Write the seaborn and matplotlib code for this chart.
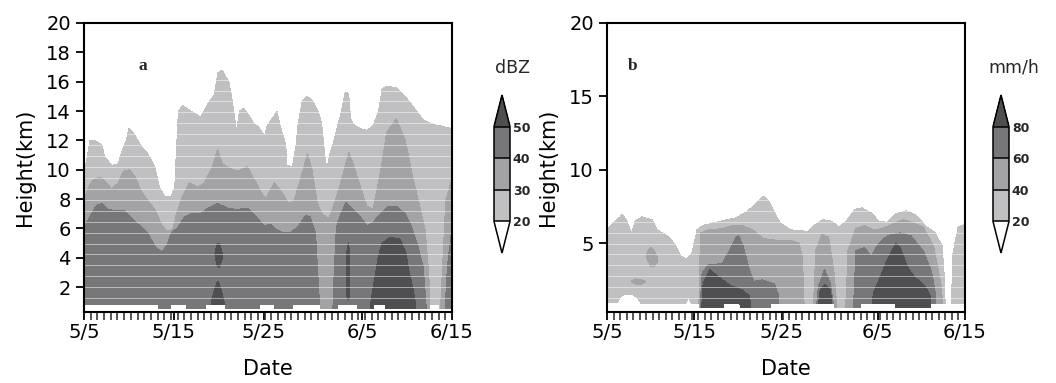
import numpy as np
import matplotlib
matplotlib.use("Agg")
import matplotlib.pyplot as plt
from matplotlib.ticker import FixedLocator
from matplotlib.colors import ListedColormap, BoundaryNorm
from matplotlib.cm import ScalarMappable
import seaborn as sns

sns.set_style("ticks")
plt.rcParams["font.family"] = ["DejaVu Sans"]

# ---------------- axis annotation ----------------
date_ticks = [0, 10, 20, 31, 41]          # days after 5 May
date_labels = ["5/5", "5/15", "5/25", "6/5", "6/15"]
band_colors = ["#c0c0c2", "#a3a3a6", "#77777a"]
over_color = "#4f4f52"

# ---------------- panel a: reflectivity (dBZ) ----------------
dbz_levels = [20, 30, 40, 50]

# height (km) of the 20 dBZ contour (echo top)
dbz20_day = [0, 0.1, 0.66, 1.2, 2.0, 2.3, 3.1, 3.8, 4.2, 4.7, 5.0, 5.5, 6.4, 7.1, 7.9, 8.4,
             9.0, 9.7, 10.1, 10.5, 11.0, 11.9, 13.0, 13.8, 14.5, 14.9, 15.4, 16.2, 16.7, 17.0,
             17.3, 17.8, 18.4, 19.0, 19.5, 20.1, 20.4, 21.2, 21.5, 21.9, 22.3, 22.5, 22.6, 23.2,
             23.6, 23.8, 24.3, 24.9, 25.6, 26.2, 26.5, 26.9, 27.1, 27.4, 27.8, 28.2, 28.6, 28.9,
             29.1, 29.5, 29.7, 30.0, 30.8, 31.5, 32.2, 32.8, 33.2, 33.7, 34.8, 35.8, 36.7, 37.8,
             38.9, 40.4, 41]
dbz20_km = [9.5, 10.0, 12.0, 12.0, 11.7, 10.9, 10.3, 10.4, 11.2, 12.0, 12.8, 12.5, 11.6, 11.1,
            10.2, 8.8, 8.2, 8.2, 8.8, 14.0, 14.4, 14.0, 13.6, 14.5, 15.1, 16.6, 16.8, 15.9, 14.0,
            12.6, 14.0, 14.2, 13.7, 13.1, 12.9, 12.3, 13.0, 13.7, 14.0, 12.9, 12.1, 11.6, 10.3,
            10.2, 11.6, 12.9, 14.7, 15.0, 14.6, 13.8, 13.1, 10.6, 10.2, 11.1, 11.9, 12.9, 13.8,
            14.7, 15.3, 15.2, 13.5, 13.1, 12.8, 12.7, 13.0, 14.0, 15.5, 15.7, 15.6, 15.0, 14.3,
            13.4, 13.1, 12.9, 12.8]

# height (km) of the 30 dBZ contour
dbz30_day = [0, 0.5, 1.0, 1.8, 2.3, 3.1, 3.8, 4.4, 5.1, 5.7, 6.4, 7.1, 7.9, 8.6, 9.2, 9.9, 10.3,
             11.0, 11.7, 12.7, 13.4, 14.3, 14.9, 15.4, 16.2, 17.1, 18.2, 19.0, 19.7, 20.2, 21.2,
             21.9, 22.8, 23.4, 24.1, 24.9, 25.4, 26.0, 26.5, 27.3, 27.8, 28.6, 29.5, 30.0, 30.8,
             31.5, 32.2, 33.0, 33.7, 34.8, 35.8, 36.7, 37.4, 38.0, 38.4, 38.6, 39.7, 40.0, 40.3, 41]
dbz30_km = [7.9, 8.8, 9.3, 9.5, 9.2, 8.7, 9.1, 9.9, 10.0, 9.5, 8.5, 7.9, 7.3, 6.3, 5.8, 5.9, 7.0,
            8.2, 9.1, 8.8, 9.1, 10.2, 11.4, 10.4, 10.1, 9.9, 10.2, 9.3, 8.5, 8.0, 9.1, 8.6, 7.7,
            7.9, 9.3, 11.1, 10.0, 7.7, 7.0, 6.7, 7.5, 9.1, 11.2, 10.4, 8.8, 7.5, 7.3, 9.7, 12.5,
            13.5, 12.0, 9.3, 7.5, 5.9, 3.0, 0, 0, 4.0, 7.9, 9.4]

# height (km) of the 40 dBZ contour
dbz40_day = [0, 0.66, 1.4, 2.0, 2.7, 3.6, 4.5, 5.5, 6.4, 7.1, 7.9, 8.6, 9.2, 9.7, 10.5, 11.2,
             11.9, 13.0, 13.8, 14.9, 16.0, 17.1, 18.2, 19.0, 20.1, 20.8, 21.5, 22.3, 23.0, 23.8,
             24.7, 25.2, 25.8, 26.0, 26.3, 27.7, 27.9, 28.1, 28.6, 29.2, 30.0, 30.8, 31.5, 32.2,
             33.0, 33.9, 34.8, 35.8, 36.5, 37.2, 37.8, 38.2, 40.2, 40.5, 41]
dbz40_km = [6.1, 6.8, 7.6, 7.7, 7.3, 7.2, 7.2, 6.6, 6.1, 5.7, 4.8, 4.4, 4.8, 5.7, 6.1, 6.8, 7.0,
            7.0, 7.4, 7.7, 7.4, 7.3, 7.4, 6.9, 6.2, 6.3, 5.9, 5.7, 5.7, 6.1, 6.9, 6.8, 5.7, 3.5,
            0, 0, 3.5, 6.1, 7.0, 7.8, 7.3, 6.8, 6.2, 6.4, 7.0, 7.5, 7.5, 7.0, 6.1, 4.8, 3.4, 0,
            0, 3.5, 6.2]

# height (km) of the 50 dBZ contour for cores resting on the lowest level
dbz50_day = [0, 14.0, 14.2, 14.6, 14.9, 15.2, 15.6, 15.8, 31.9, 32.0, 32.3, 32.8, 33.2, 34.1,
             35.2, 35.9, 36.1, 36.7, 36.9, 37.0, 41]
dbz50_km = [0, 0, 1.0, 2.0, 2.4, 2.0, 1.0, 0, 0, 1.1, 2.3, 4.1, 5.0, 5.4, 5.3, 4.3, 3.4, 1.8,
            0.9, 0, 0]

# elevated cores above 50 dBZ: (days, bottom km, top km)
dbz50_cells = [
    ([14.6, 14.8, 15.0, 15.2, 15.4], [4.2, 3.5, 3.3, 3.5, 4.0], [4.3, 4.9, 5.0, 4.8, 4.3]),
    ([29.3, 29.45, 29.6], [1.3, 1.1, 1.3], [4.5, 5.1, 4.5]),
]

# lowest level with data (km)
dbz_base_day = [0, 8.2, 8.25, 9.6, 9.65, 11.4, 11.45, 13.5, 13.55, 15.7, 15.75, 19.6, 19.65,
                21.2, 21.25, 23.2, 23.25, 26.3, 26.35, 28.2, 28.25, 30.4, 30.45, 32.2, 32.25,
                33.5, 33.55, 38.5, 38.55, 39.6, 39.65, 41]
dbz_base_km = [0.8, 0.8, 0.5, 0.5, 0.8, 0.8, 0.5, 0.5, 0.8, 0.8, 0.5, 0.5, 0.8,
               0.8, 0.5, 0.5, 0.8, 0.8, 0.5, 0.5, 0.8, 0.8, 0.5, 0.5, 0.8,
               0.8, 0.5, 0.5, 0.8, 0.8, 0.5, 0.5]

# ---------------- panel b: rain rate (mm/h) ----------------
rain_levels = [20, 40, 60, 80]

rain20_day = [0, 0.7, 1.5, 1.7, 2.3, 2.8, 3.2, 4.0, 5.2, 5.8, 6.9, 7.7, 8.5, 9.1, 9.7, 10.3,
              11.0, 12.4, 13.8, 14.7, 15.9, 17.1, 17.9, 18.5, 19.0, 19.8, 21.0, 23.0, 23.7,
              24.7, 25.7, 26.6, 27.4, 28.4, 29.2, 30.4, 31.1, 32.1, 33.1, 34.3, 35.4, 36.6,
              37.6, 38.4, 38.6, 38.8, 39.4, 39.6, 40.2, 41]
rain20_km = [5.9, 6.4, 6.8, 7.0, 6.5, 5.7, 6.5, 6.8, 6.6, 5.9, 5.5, 5.0, 4.1, 3.9, 4.3, 5.9,
             6.2, 6.4, 6.6, 6.7, 7.1, 7.7, 8.2, 7.9, 7.3, 6.4, 5.9, 5.8, 6.2, 6.6, 6.5, 6.1,
             6.5, 7.3, 7.4, 7.0, 6.5, 6.4, 7.0, 7.2, 6.9, 6.1, 5.7, 4.8, 3.0, 0, 0, 4.3, 6.1, 6.3]

rain40_day = [0, 10.5, 10.7, 11.6, 13.2, 14.4, 15.5, 16.7, 17.9, 19.4, 21.0, 22.0, 22.4, 22.6,
              23.6, 23.9, 24.6, 25.4, 26.0, 26.4, 27.3, 27.6, 28.5, 29.5, 30.5, 31.5, 32.3,
              33.9, 35.0, 36.2, 37.4, 38.0, 38.3, 38.5, 41]
rain40_km = [0, 0, 5.7, 5.9, 6.0, 6.2, 6.2, 5.9, 5.3, 5.2, 5.2, 5.0, 4.0, 0, 0, 4.5, 5.6, 5.4,
             3.0, 0, 0, 4.5, 6.0, 6.2, 5.9, 6.0, 6.2, 6.6, 6.4, 6.1, 4.8, 3.0, 2.0, 0, 0]

rain60_day = [0, 10.6, 10.9, 11.6, 13.2, 14.1, 14.8, 15.1, 15.6, 16.3, 16.8, 17.8, 19.2, 19.6,
              19.8, 23.9, 24.2, 24.9, 25.6, 26.1, 28.2, 28.5, 29.5, 30.3, 31.0, 32.1, 33.6,
              34.8, 36.2, 37.2, 37.6, 37.8, 41]
rain60_km = [0, 0, 3.0, 3.5, 3.6, 4.6, 5.4, 5.5, 4.8, 3.2, 2.4, 2.5, 2.2, 1.5, 0, 0, 2.0, 3.2,
             2.2, 0, 0, 4.5, 4.7, 4.1, 4.9, 5.5, 5.7, 5.5, 4.5, 3.0, 1.6, 0, 0]

rain80_day = [0, 10.8, 11.0, 11.8, 13.2, 14.2, 15.5, 16.3, 16.6, 24.1, 24.4, 25.0, 25.6, 25.9,
              30.3, 30.5, 31.3, 32.1, 33.1, 33.6, 34.4, 35.2, 36.4, 37.0, 37.2, 41]
rain80_km = [0, 0, 2.3, 3.2, 2.5, 2.1, 1.8, 1.4, 0, 0, 1.8, 2.2, 1.8, 0, 0, 1.6, 2.7, 3.9,
             5.0, 4.7, 3.4, 2.7, 2.1, 1.4, 0, 0]

# elevated cells above 40 mm/h: (days, bottom km, top km)
rain40_cells = [
    ([4.6, 5.0, 5.4, 5.8], [3.9, 3.4, 3.4, 3.7], [4.4, 4.7, 4.5, 4.0]),
    ([2.8, 3.3, 3.9, 4.4], [2.3, 2.2, 2.2, 2.3], [2.45, 2.55, 2.5, 2.4]),
]

rain_base_day = [0, 1.2, 1.6, 2.2, 3.0, 3.5, 3.9, 9.0, 9.3, 9.7, 10.6, 10.65, 13.3, 13.35,
                 15.2, 15.25, 18.7, 18.75, 26.0, 26.05, 29.0, 29.05, 33.0, 33.05, 37.0, 37.05, 41]
rain_base_km = [0.9, 0.9, 1.35, 1.5, 1.45, 1.2, 0.85, 0.85, 1.25, 0.85, 0.85, 0.55, 0.55, 0.85,
                0.85, 0.55, 0.55, 0.85, 0.85, 0.55, 0.55, 0.85, 0.85, 0.55, 0.55, 0.85, 0.85]

# sampling levels that show as faint light lines through the echoes
level_lines_km = np.arange(0.495, 17.3, 0.745)

# ---------------- gridding ----------------
day_grid = np.linspace(0, 41, 821)
z_grid = np.arange(0.3, 20.001, 0.04)


def build_field(levels, contours, base, cells, cell_value):
    """Column profiles crossing each level at its contour height; masked below the data base."""
    step = levels[1] - levels[0]
    tops = [np.interp(day_grid, d, h) for d, h in contours]
    base_g = np.interp(day_grid, *base)
    field = np.zeros((z_grid.size, day_grid.size))
    for j in range(day_grid.size):
        b = base_g[j]
        hs = [t[j] for t in tops]
        reached = [h > b + 0.02 for h in hs]
        if not reached[0]:
            continue
        n = max(i for i, r in enumerate(reached) if r)
        for i in range(n - 1, -1, -1):
            hs[i] = max(hs[i], hs[i + 1] + 0.05)
        kz = [b]
        kv = [levels[n] + step / 2]
        for i in range(n, -1, -1):
            kz.append(hs[i])
            kv.append(levels[i])
        kz.append(hs[0] + 1.0)
        kv.append(levels[0] - step)
        field[:, j] = np.interp(z_grid, kz, kv)
    for d, lo, hi in cells:
        inside = (day_grid >= d[0]) & (day_grid <= d[-1])
        for j in np.where(inside)[0]:
            lo_j = np.interp(day_grid[j], d, lo)
            hi_j = np.interp(day_grid[j], d, hi)
            m = (z_grid >= lo_j) & (z_grid <= hi_j)
            field[m, j] = np.maximum(field[m, j], cell_value)
    below = z_grid[:, None] < base_g[None, :]
    return np.ma.masked_where(below, field)


dbz_field = build_field(
    dbz_levels,
    [(dbz20_day, dbz20_km), (dbz30_day, dbz30_km), (dbz40_day, dbz40_km), (dbz50_day, dbz50_km)],
    (dbz_base_day, dbz_base_km), dbz50_cells, 55)
rain_field = build_field(
    rain_levels,
    [(rain20_day, rain20_km), (rain40_day, rain40_km), (rain60_day, rain60_km), (rain80_day, rain80_km)],
    (rain_base_day, rain_base_km), rain40_cells, 50)

# ---------------- figure ----------------
W, H = 1056, 383
fig = plt.figure(figsize=(W / 100, H / 100), dpi=100)


def px_axes(x0, x1, y0, y1):
    return fig.add_axes([x0 / W, 1 - y1 / H, (x1 - x0) / W, (y1 - y0) / H])


ax_a = px_axes(84, 452, 23, 312)
ax_b = px_axes(607, 965, 23, 312)
cax_a = px_axes(494, 510, 95, 253)
cax_b = px_axes(993, 1009, 95, 253)

panels = [
    (ax_a, cax_a, dbz_field, dbz_levels, np.arange(2, 21, 2), "a", 6.6, "dBZ", 513),
    (ax_b, cax_b, rain_field, rain_levels, [5, 10, 15, 20], "b", 2.9, "mm/h", 1014),
]

for ax, cax, field, levels, yticks, tag, tag_x, unit, unit_x in panels:
    # each shade is filled as the region above its threshold, darker shades on top
    for lev, col in zip(levels, band_colors + [over_color]):
        ax.contourf(day_grid, z_grid, field, levels=[lev, 1000], colors=[col],
                    algorithm="serial")
    for h in level_lines_km:
        ax.axhline(h, color="white", lw=0.7, alpha=0.5, zorder=2)
    ax.set_xlim(0, 41)
    ax.set_ylim(0.3, 20)
    ax.set_xticks(date_ticks)
    ax.set_xticklabels(date_labels)
    ax.xaxis.set_minor_locator(FixedLocator(np.linspace(0, 41, 56)))
    ax.set_yticks(yticks)
    ax.tick_params(axis="both", which="major", direction="out", length=6, width=1.3,
                   labelsize=14, color="black", labelcolor="black")
    ax.tick_params(axis="x", which="major", pad=2)
    ax.tick_params(axis="x", which="minor", direction="out", length=6, width=1.1)
    for s in ax.spines.values():
        s.set_visible(True)
        s.set_linewidth(1.5)
        s.set_color("black")
    ax.set_xlabel("Date", fontsize=15, labelpad=12, color="black")
    ax.set_ylabel("Height(km)", fontsize=15, labelpad=8, color="black")
    ax.text(tag_x, 17.1, tag, fontsize=12.5, fontweight="bold",
            family=["Liberation Serif", "DejaVu Serif"], ha="center", va="center")

    cmap = ListedColormap(band_colors)
    cmap.set_under("white")
    cmap.set_over(over_color)
    sm = ScalarMappable(norm=BoundaryNorm(levels, cmap.N), cmap=cmap)
    cb = fig.colorbar(sm, cax=cax, extend="both", extendfrac=1 / 3, drawedges=True,
                      ticks=levels)
    cb.outline.set_linewidth(1.1)
    cb.outline.set_edgecolor("black")
    cb.dividers.set_color("black")
    cb.dividers.set_linewidth(1.1)
    cax.tick_params(length=0, pad=2, labelsize=9)
    for lab in cax.get_yticklabels():
        lab.set_fontweight("bold")
    fig.text(unit_x / W, 1 - 68 / H, unit, fontsize=12.5, ha="center", va="center")

fig.savefig("out.png", dpi=100)
